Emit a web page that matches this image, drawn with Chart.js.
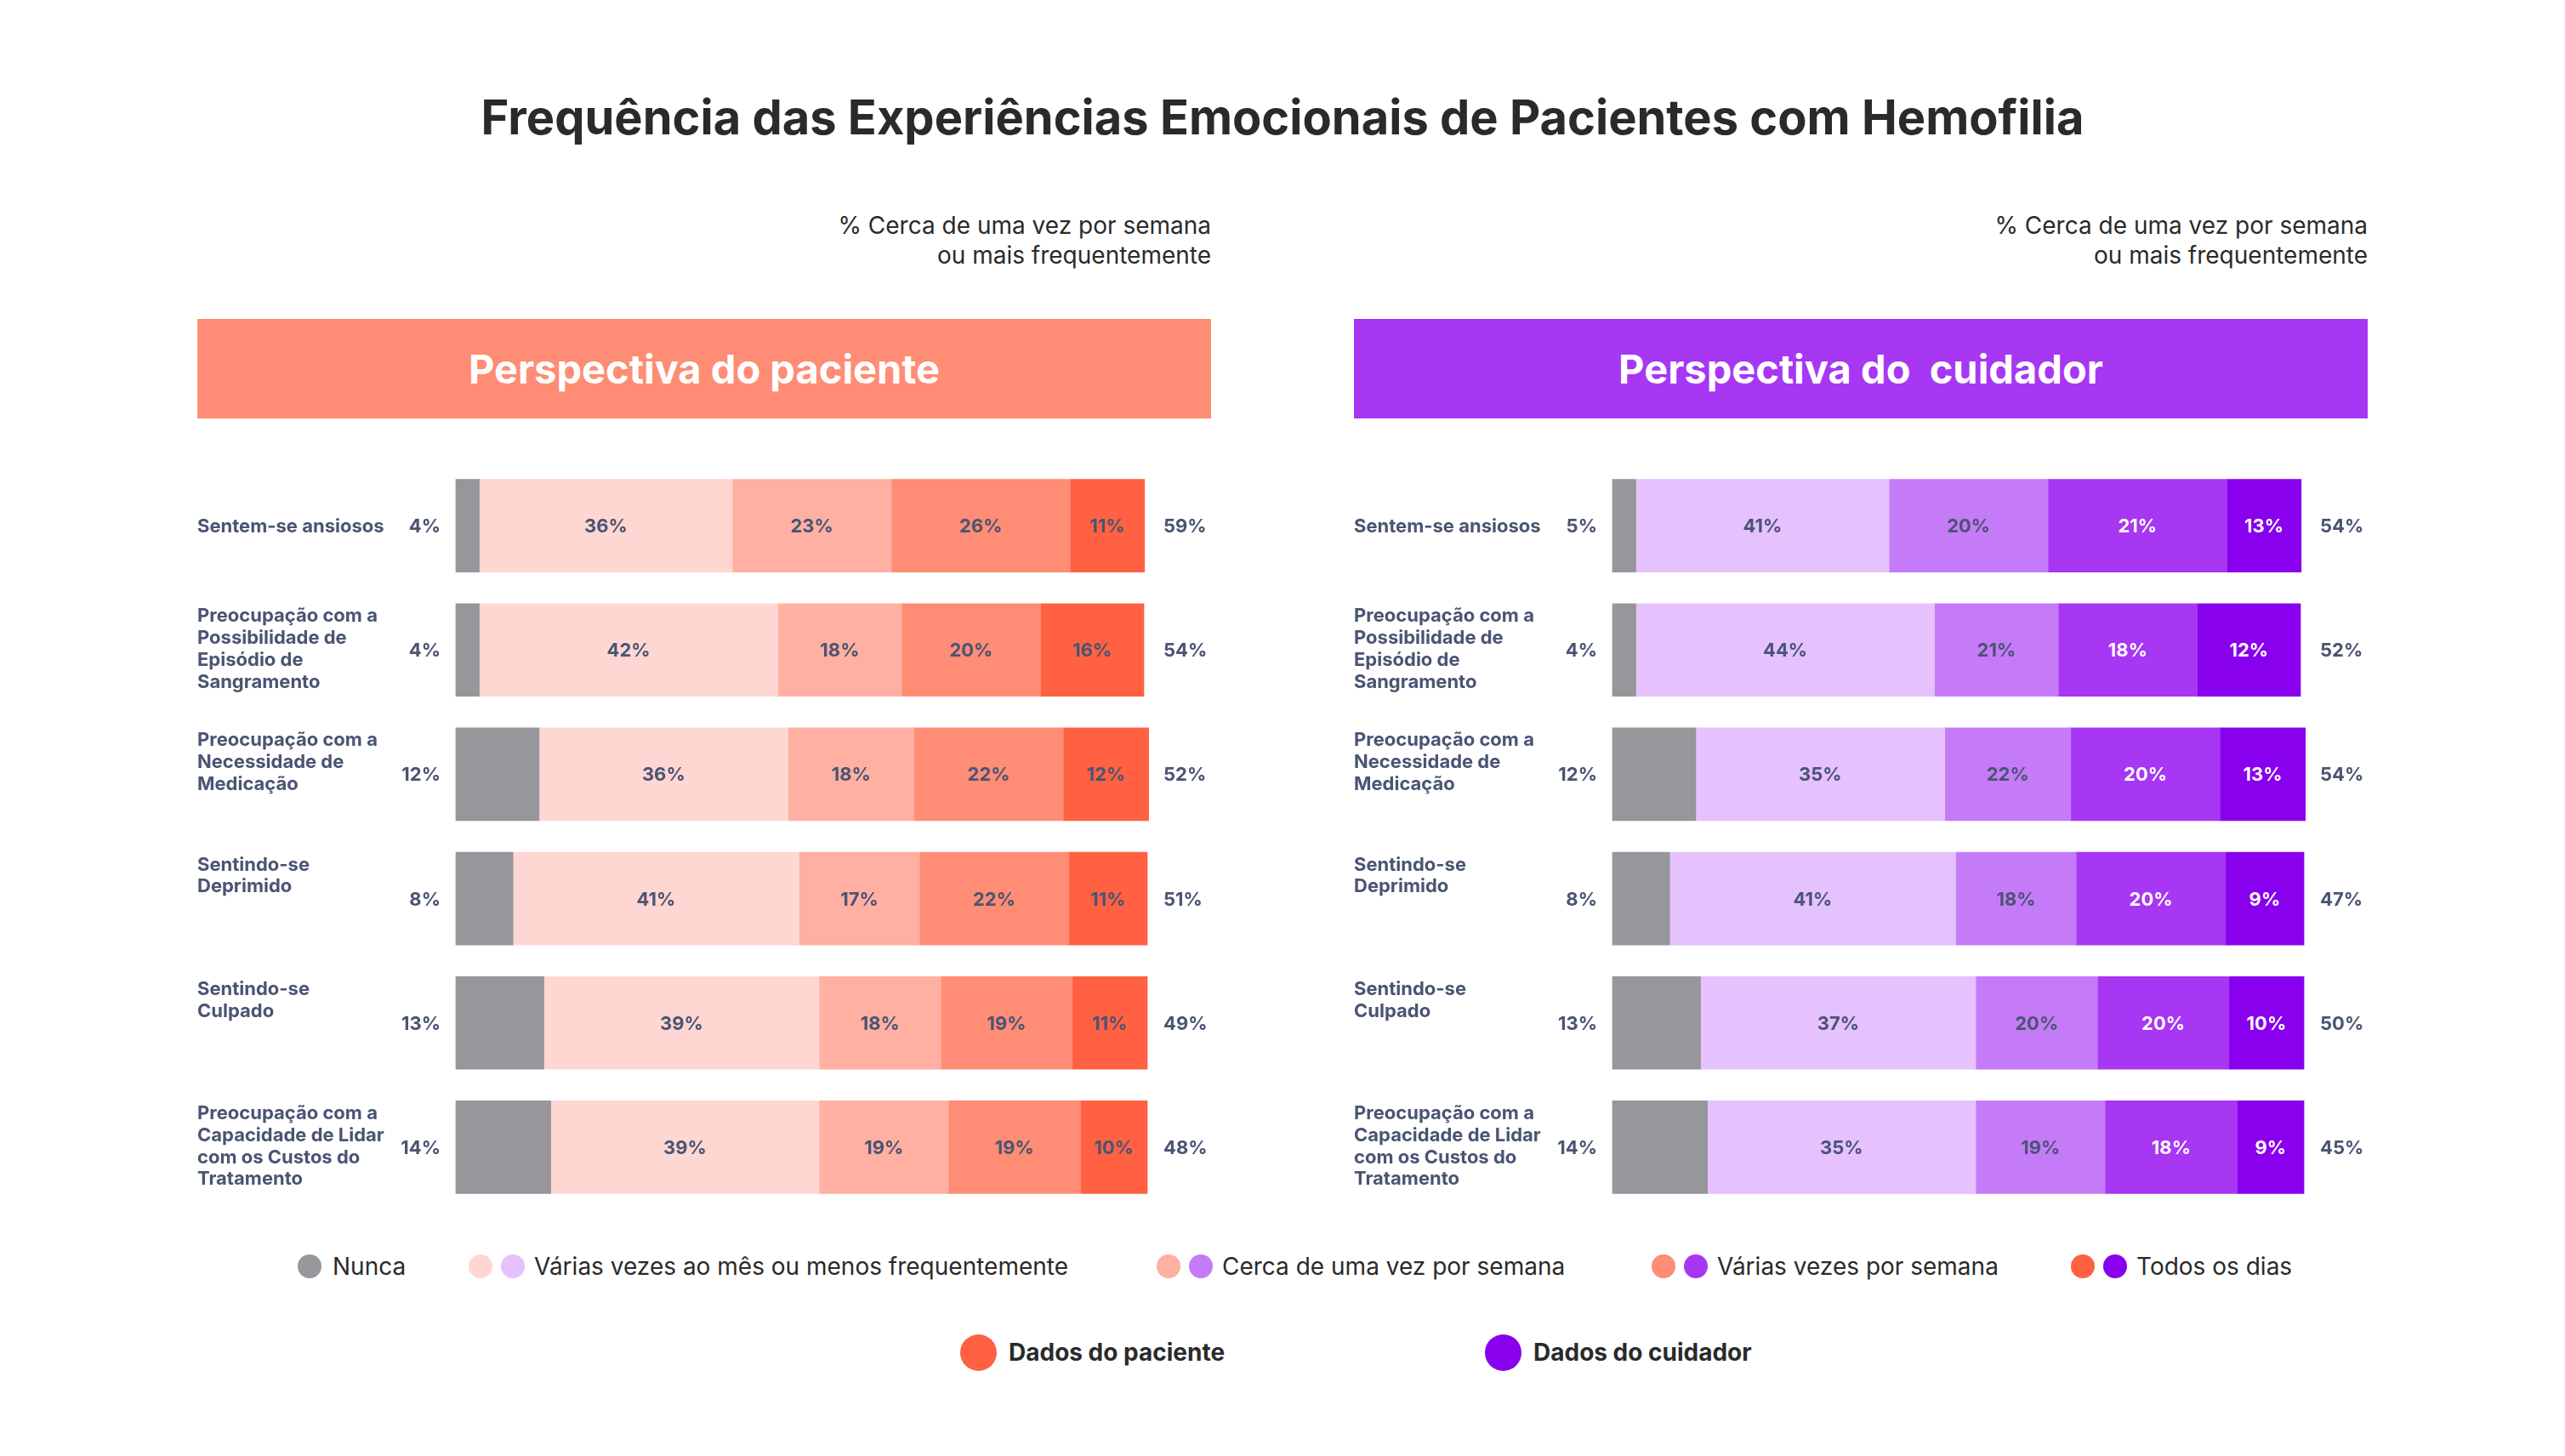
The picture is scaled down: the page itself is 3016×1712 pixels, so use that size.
<!DOCTYPE html>
<html>
<head>
<meta charset="utf-8">
<script src="https://cdn.jsdelivr.net/npm/chart.js@4.4.1/dist/chart.umd.min.js"></script>
<style>
  html, body { margin: 0; padding: 0; background: #ffffff; }
  body { width: 3016px; height: 1712px; position: relative; overflow: hidden; font-family: Inter, "Noto Sans", sans-serif; }
  .abs { position: absolute; }
  #title { left: 0; width: 3016px; top: 98px; height: 80px; line-height: 80px; text-align: center; font-size: 56px; font-weight: 700; color: #2a2a2a; white-space: nowrap; }
  .sub { width: 900px; text-align: right; font-size: 28px; line-height: 35px; color: #2a2a2a; top: 248px; }
  .band { top: 375px; width: 1192px; height: 117px; line-height: 117px; text-align: center; color: #ffffff; font-size: 47px; font-weight: 700; white-space: pre; }
  .chartbox { top: 545px; width: 1192px; height: 877px; }
  .leg { display: flex; align-items: center; font-size: 28px; color: #2a2a2a; white-space: nowrap; height: 40px; }
  .dot { width: 28px; height: 28px; border-radius: 50%; display: inline-block; }
  .leg2 { display: flex; align-items: center; font-size: 28px; font-weight: 700; color: #2a2a2a; white-space: nowrap; height: 50px; }
  .bigdot { width: 43px; height: 43px; border-radius: 50%; display: inline-block; margin-right: 14px; }
</style>
</head>
<body>
<script>
// ---------------- DATA ----------------
const categories = [
  ["Sentem-se ansiosos"],
  ["Preocupação com a", "Possibilidade de", "Episódio de", "Sangramento"],
  ["Preocupação com a", "Necessidade de", "Medicação"],
  ["Sentindo-se", "Deprimido"],
  ["Sentindo-se", "Culpado"],
  ["Preocupação com a", "Capacidade de Lidar", "com os Custos do", "Tratamento"]
];
const seriesNames = ["Nunca", "Várias vezes ao mês ou menos frequentemente", "Cerca de uma vez por semana", "Várias vezes por semana", "Todos os dias"];

// printed percentages (labels)
const patientNunca   = [4, 4, 12, 8, 13, 14];
const patientMonthly = [36, 42, 36, 41, 39, 39];
const patientWeekly  = [23, 18, 18, 17, 18, 19];
const patientSeveral = [26, 20, 22, 22, 19, 19];
const patientDaily   = [11, 16, 12, 11, 11, 10];
const patientTotal   = [59, 54, 52, 51, 49, 48];

const caregiverNunca   = [5, 4, 12, 8, 13, 14];
const caregiverMonthly = [41, 44, 35, 41, 37, 35];
const caregiverWeekly  = [20, 21, 22, 18, 20, 19];
const caregiverSeveral = [21, 18, 20, 20, 20, 18];
const caregiverDaily   = [13, 12, 13, 9, 10, 9];
const caregiverTotal   = [54, 52, 54, 47, 50, 45];

// segment lengths as drawn in the picture (%); the reference draws the
// same segment lengths in both panels
const barNunca   = [3.4, 3.4, 12.1, 8.3, 12.8, 13.8];
const barMonthly = [36.8, 43.4, 36.2, 41.6, 40.0, 39.0];
const barWeekly  = [23.1, 18.0, 18.3, 17.5, 17.7, 18.8];
const barSeveral = [26.0, 20.2, 21.7, 21.7, 19.1, 19.2];
const barDaily   = [10.8, 15.0, 12.4, 11.4, 10.9, 9.7];

const titleText = "Frequência das Experiências Emocionais de Pacientes com Hemofilia";
const subtitleLines = ["% Cerca de uma vez por semana", "ou mais frequentemente"];
const panelTitles = ["Perspectiva do paciente", "Perspectiva do  cuidador"];
const sourceNames = ["Dados do paciente", "Dados do cuidador"];

// ---------------- STYLE ----------------
const grey = "#96969B";
const patientColors = [grey, "#FFD7D2", "#FFB0A2", "#FF8C74", "#FF6142"];
const caregiverColors = [grey, "#E5C1FD", "#C57BF8", "#A737F3", "#8900EE"];
const patientLabelColors = ["#4A5473", "#4A5473", "#4A5473", "#4A5473", "#4A5473"];
const caregiverLabelColors = ["#4A5473", "#4A5473", "#4A5473", "#ffffff", "#ffffff"];
const textColor = "#4A5473";

// ---------------- LAYOUT (static HTML parts) ----------------
function el(tag, cls, style, text) {
  const e = document.createElement(tag);
  if (cls) e.className = cls;
  if (style) Object.assign(e.style, style);
  if (text !== undefined) e.textContent = text;
  document.body.appendChild(e);
  return e;
}
el("div", "abs", null, titleText).id = "title";

const panelLefts = [232, 1592];
panelLefts.forEach((left, p) => {
  const sub = el("div", "abs sub", { left: (left + 1192 - 900) + "px" });
  sub.innerHTML = subtitleLines.join("<br>");
  el("div", "abs band", { left: left + "px", background: p === 0 ? patientColors[3] : caregiverColors[3] }, panelTitles[p]);
});

// legend row 1
const legendItems = [
  { left: 350, dots: [grey], gap: 13 },
  { left: 551, dots: [patientColors[1], caregiverColors[1]], gap: 11 },
  { left: 1360, dots: [patientColors[2], caregiverColors[2]], gap: 11 },
  { left: 1942, dots: [patientColors[3], caregiverColors[3]], gap: 11 },
  { left: 2435, dots: [patientColors[4], caregiverColors[4]], gap: 11 }
];
legendItems.forEach((it, i) => {
  const d = el("div", "abs leg", { left: it.left + "px", top: (1489 - 20) + "px" });
  it.dots.forEach((c, k) => {
    const s = document.createElement("span");
    s.className = "dot";
    s.style.background = c;
    s.style.marginRight = (k === it.dots.length - 1 ? it.gap : 10) + "px";
    d.appendChild(s);
  });
  const t = document.createElement("span");
  t.textContent = seriesNames[i];
  d.appendChild(t);
});
// legend row 2
[[1129, patientColors[4]], [1746, caregiverColors[4]]].forEach(([left, c], i) => {
  const d = el("div", "abs leg2", { left: left + "px", top: (1590 - 25) + "px" });
  const s = document.createElement("span");
  s.className = "bigdot";
  s.style.background = c;
  d.appendChild(s);
  const t = document.createElement("span");
  t.textContent = sourceNames[i];
  d.appendChild(t);
});

// ---------------- CHARTS ----------------
const labelPlugin = {
  id: "panelLabels",
  afterDatasetsDraw(chart, args, opts) {
    const ctx = chart.ctx;
    const area = chart.chartArea;
    ctx.save();
    const fs = 22;
    const capHalf = fs * 0.3635;
    ctx.font = "bold " + fs + "px Inter";
    const meta0 = chart.getDatasetMeta(0);
    meta0.data.forEach((bar, j) => {
      const p = bar.getProps(["x", "y", "base", "height"], true);
      const top = p.y - p.height / 2;
      ctx.fillStyle = textColor;
      ctx.textAlign = "left";
      const lines = categories[j];
      if (lines.length === 1) {
        ctx.fillText(lines[0], 0, p.y + capHalf);
      } else {
        lines.forEach((ln, k) => ctx.fillText(ln, 0, top + 13.5 + k * 25.8 + capHalf));
      }
      ctx.textAlign = "right";
      ctx.fillText(opts.labels[0][j] + "%", area.left - 18, p.y + capHalf);
      ctx.textAlign = "left";
      ctx.fillText(opts.totals[j] + "%", area.right + 23, p.y + capHalf);
    });
    for (let i = 1; i < chart.data.datasets.length; i++) {
      const meta = chart.getDatasetMeta(i);
      ctx.fillStyle = opts.labelColors[i];
      ctx.textAlign = "center";
      meta.data.forEach((bar, j) => {
        const p = bar.getProps(["x", "y", "base"], true);
        ctx.fillText(opts.labels[i][j] + "%", (p.x + p.base) / 2, p.y + capHalf);
      });
    }
    ctx.restore();
  }
};

function makeChart(left, bars, labels, colors, labelColors, totals) {
  const box = el("div", "abs chartbox", { left: left + "px" });
  const cv = document.createElement("canvas");
  box.appendChild(cv);
  return new Chart(cv, {
    type: "bar",
    data: {
      labels: categories.map(c => c.join(" ")),
      datasets: bars.map((d, i) => ({
        label: seriesNames[i],
        data: d,
        backgroundColor: colors[i],
        borderWidth: 0,
        barThickness: 109,
        clip: false
      }))
    },
    options: {
      indexAxis: "y",
      responsive: true,
      maintainAspectRatio: false,
      animation: false,
      events: [],
      layout: { padding: { left: 304, right: 79, top: 0, bottom: 0 } },
      scales: {
        x: { stacked: true, min: 0, max: 100, display: false },
        y: { stacked: true, display: false }
      },
      plugins: {
        legend: { display: false },
        tooltip: { enabled: false },
        panelLabels: { totals: totals, labels: labels, labelColors: labelColors }
      }
    },
    plugins: [labelPlugin]
  });
}

function init() {
  const bars = [barNunca, barMonthly, barWeekly, barSeveral, barDaily];
  makeChart(232, bars, [patientNunca, patientMonthly, patientWeekly, patientSeveral, patientDaily], patientColors, patientLabelColors, patientTotal);
  makeChart(1592, bars, [caregiverNunca, caregiverMonthly, caregiverWeekly, caregiverSeveral, caregiverDaily], caregiverColors, caregiverLabelColors, caregiverTotal);
}
if (document.fonts && document.fonts.load) {
  Promise.all([document.fonts.load("bold 22px Inter"), document.fonts.load("22px Inter")]).then(init, init);
} else { init(); }
</script>
</body>
</html>
